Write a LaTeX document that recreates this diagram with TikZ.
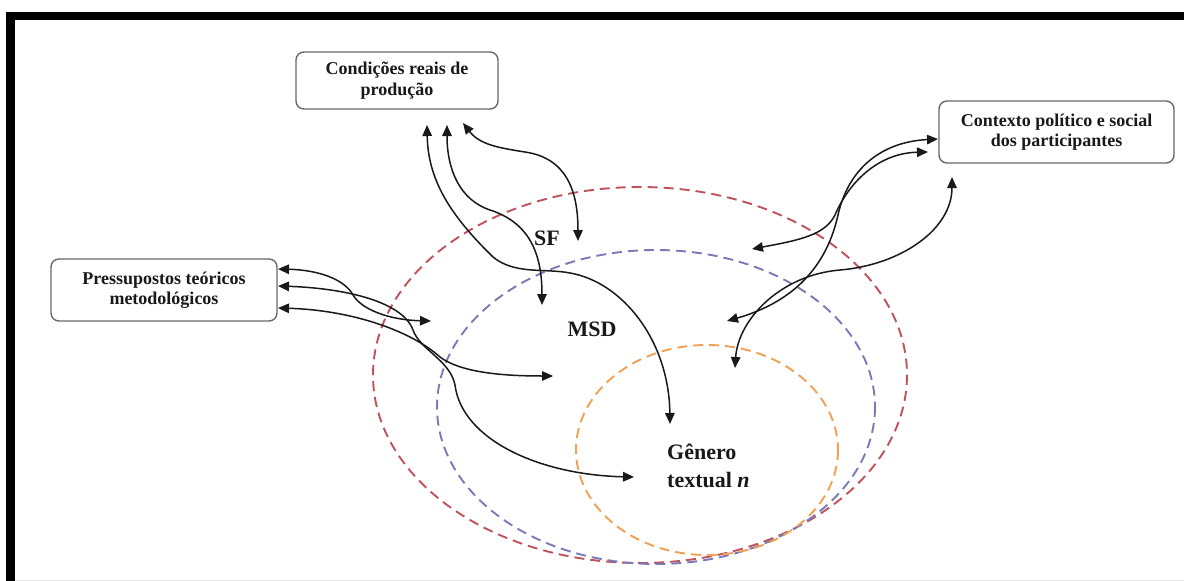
\documentclass[tikz,border=0pt]{standalone}
\usepackage{fontspec}
\setmainfont{Liberation Serif}
\usetikzlibrary{arrows.meta}
\definecolor{ellred}{RGB}{192,82,92}
\definecolor{ellblue}{RGB}{122,122,184}
\definecolor{ellorange}{RGB}{242,160,84}
\definecolor{boxline}{RGB}{105,105,105}
\definecolor{txt}{RGB}{25,25,25}
\begin{document}
\begin{tikzpicture}[x=1pt,y=-1pt,
  box/.style={draw=boxline, line width=1.4pt, rounded corners=8pt, fill=white,
    align=center, inner sep=0pt, text=txt,
    font=\fontsize{18}{20.5}\selectfont\bfseries},
  lbl/.style={text=txt, inner sep=0pt, font=\fontsize{22}{28}\selectfont\bfseries},
  ring/.style={line width=1.9pt, dash pattern=on 10pt off 6pt},
  conn/.style={{Triangle[length=11pt,width=9.5pt]}-{Triangle[length=11pt,width=9.5pt]},
    line width=1.5pt, black!90}]
\useasboundingbox (0,0) rectangle (1184,581);
\fill[white] (0,0) rectangle (1184,581);
% frame
\draw[line width=8.5pt] (10.5,590) -- (10.5,16) -- (1190,16);
\draw[black!10, line width=1pt] (15,580) -- (1184,580);
% ellipses
\draw[ring, ellred] (640,375) ellipse [x radius=267, y radius=188];
\draw[ring, ellblue] (656,407) ellipse [x radius=219, y radius=157];
\draw[ring, ellorange] (707,450) ellipse [x radius=131, y radius=105];
% boxes
\node[box, minimum width=202pt, minimum height=57pt] (cond) at (397,80.5) {Condições reais de\\produção};
\node[box, minimum width=226pt, minimum height=62pt] (press) at (164,290) {Pressupostos teóricos\\metodológicos};
\node[box, minimum width=235pt, minimum height=62pt] (ctx) at (1056.5,132) {Contexto político e social\\dos participantes};
% labels
\node[lbl] (sf) at (547,238) {SF};
\node[lbl] (msd) at (592,329) {MSD};
\node[lbl, align=left, anchor=west] (gen) at (667,466) {Gênero\\textual \textit{n}};
% connector end points
\coordinate (c1) at (427,125);
\coordinate (c2) at (447,125);
\coordinate (c3) at (463,123);
\coordinate (p1) at (278,269);
\coordinate (p2) at (278,286);
\coordinate (p3) at (278,308);
\coordinate (x1) at (938,139);
\coordinate (x2) at (928,152);
\coordinate (x3) at (952,177);
\coordinate (tsf) at (578,241);
\coordinate (tmsd) at (542,305);
\coordinate (tgen) at (670,424);
\coordinate (tp1) at (431,321);
\coordinate (tp2) at (634,477);
\coordinate (tp3) at (553,376);
\coordinate (tx1) at (727,321);
\coordinate (tx2) at (752,249);
\coordinate (tx3) at (735,368);
% connectors: Condicoes
\draw[conn] (c1) .. controls (428,180) and (450,215) .. (493,257)
  .. controls (515,275) and (545,268) .. (570,273)
  .. controls (622,282) and (669,340) .. (tgen);
\draw[conn] (c2) .. controls (447,170) and (460,200) .. (490,210)
  .. controls (527,222) and (542,250) .. (tmsd);
\draw[conn] (c3) .. controls (480,145) and (500,148) .. (525,152)
  .. controls (566,158) and (578,190) .. (tsf);
% connectors: Pressupostos
\draw[conn] (p1) .. controls (320,270) and (345,280) .. (353,295)
  .. controls (362,310) and (390,320) .. (tp1);
\draw[conn] (p2) .. controls (340,288) and (402,300) .. (413,330)
  .. controls (420,350) and (450,360) .. (455,385)
  .. controls (462,440) and (540,475) .. (tp2);
\draw[conn] (p3) .. controls (350,310) and (410,330) .. (440,357)
  .. controls (460,372) and (500,376) .. (tp3);
% connectors: Contexto
\draw[conn] (x1) .. controls (880,142) and (848,170) .. (838,215)
  .. controls (828,260) and (800,300) .. (tx1);
\draw[conn] (x2) .. controls (880,153) and (850,180) .. (835,215)
  .. controls (825,235) and (800,240) .. (tx2);
\draw[conn] (x3) .. controls (952,230) and (900,265) .. (840,270)
  .. controls (780,275) and (738,320) .. (tx3);
\end{tikzpicture}
\end{document}
